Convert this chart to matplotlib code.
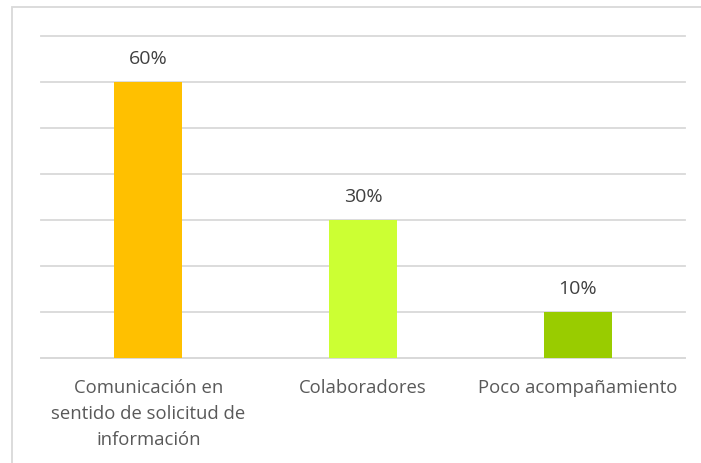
import matplotlib
matplotlib.use('Agg')
import matplotlib.pyplot as plt
from matplotlib.patches import Rectangle

# 数据
categories = ['Comunicación en\nsentido de solicitud de\ninformación',
              'Colaboradores',
              'Poco acompañamiento']
values = [0.60, 0.30, 0.10]
labels = ['60%', '30%', '10%']
colors = ['#FFC000', '#CCFF33', '#99CC00']

plt.rcParams['font.family'] = ['Open Sans', 'DejaVu Sans']
text_color = '#595959'
label_color = '#404040'
grid_color = '#D9D9D9'

fig = plt.figure(figsize=(7.01, 4.64), dpi=100)
ax = fig.add_axes([41 / 701, 105 / 464, (685 - 41) / 701, (359 - 37) / 464])

x = range(len(categories))
ax.bar(x, values, width=0.317, color=colors, zorder=3)

# 数据标签
for xi, v, lab in zip(x, values, labels):
    ax.annotate(lab, (xi, v), xytext=(0, 24), textcoords='offset pixels',
                ha='center', va='center', fontsize=14, color=label_color)

ax.set_xlim(-0.5, len(categories) - 0.5)
ax.set_ylim(0, 0.7)
ax.set_yticks([i / 10 for i in range(8)])
ax.yaxis.grid(True, color=grid_color, linewidth=1.3, zorder=0)
for gl in ax.get_ygridlines():
    gl.set_clip_on(False)
ax.tick_params(axis='y', left=False, labelleft=False)
ax.tick_params(axis='x', bottom=False, pad=11)
ax.set_xticks(list(x))
ax.set_xticklabels(categories, fontsize=13.3, color=text_color, linespacing=1.55)
for s in ['left', 'right', 'top']:
    ax.spines[s].set_visible(False)
ax.spines['bottom'].set_color(grid_color)
ax.spines['bottom'].set_linewidth(1.3)

# 外框
fig.patches.append(Rectangle((12 / 701, -0.1), 1.2, 1 - 8 / 464 + 0.1,
                             transform=fig.transFigure, fill=False,
                             edgecolor=grid_color, linewidth=1.3))

fig.savefig('out.png', dpi=100)
